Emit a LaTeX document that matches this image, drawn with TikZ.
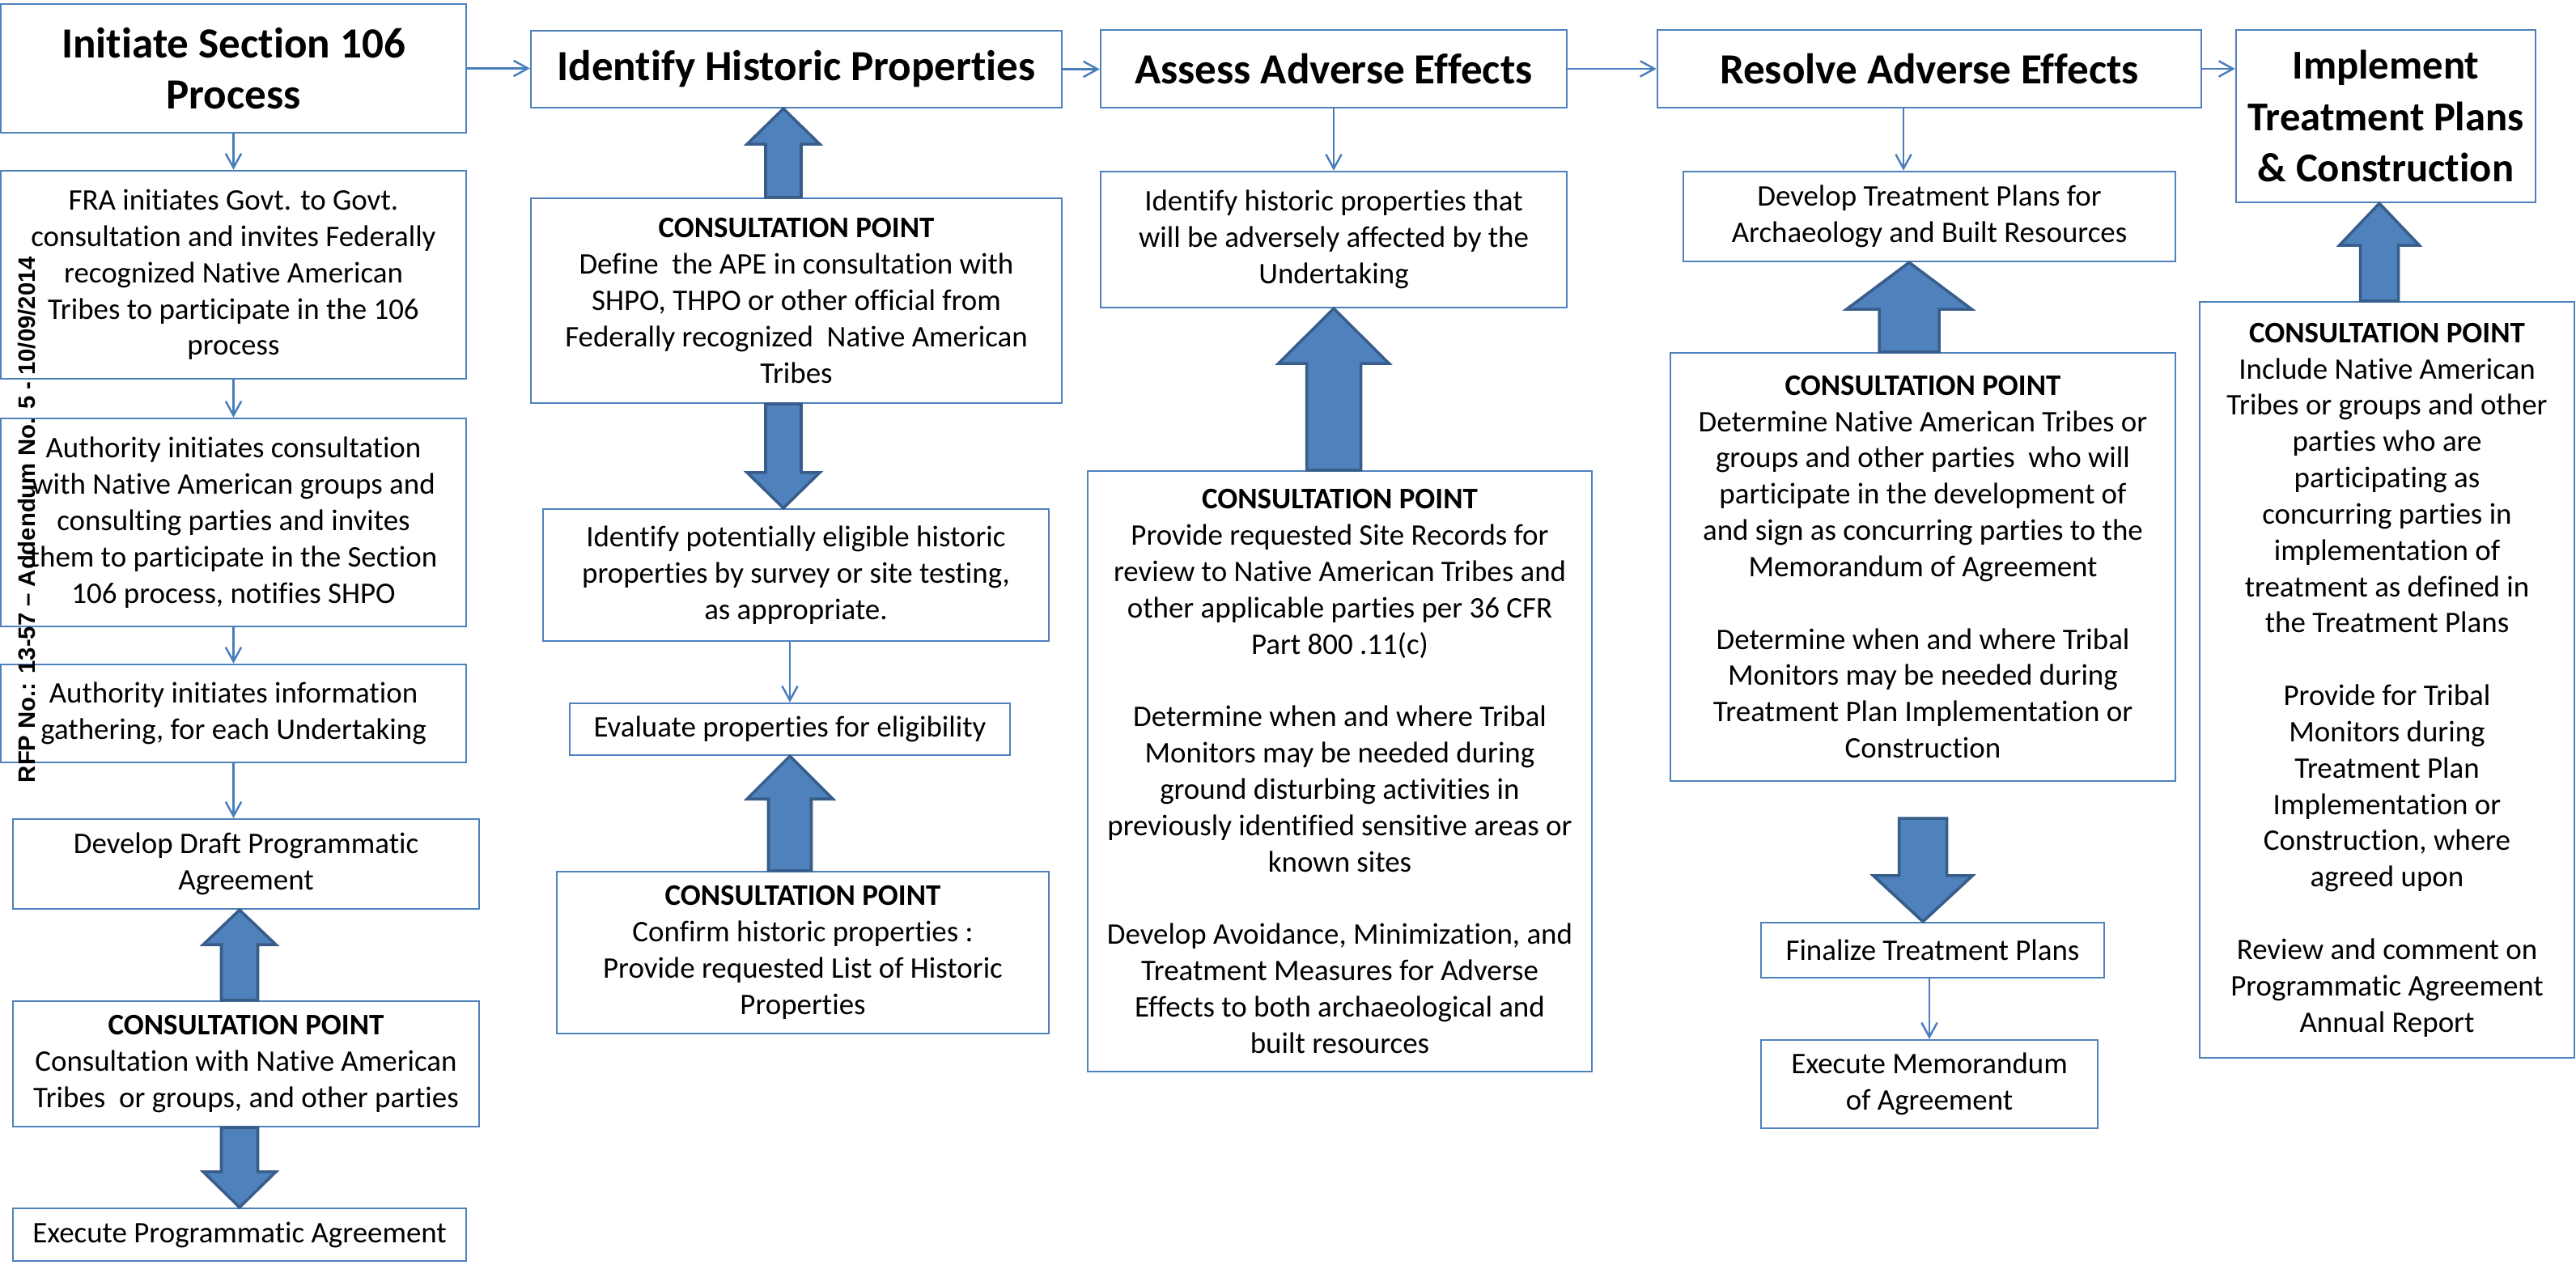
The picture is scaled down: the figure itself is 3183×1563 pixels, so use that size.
\documentclass[tikz,border=0pt]{standalone}
\usepackage{fontspec}
\setmainfont{Carlito}[Ligatures={NoCommon,NoContextual},Contextuals=NoAlternate]
\newfontfamily\rfpfont{Liberation Sans}
\usetikzlibrary{arrows.meta,calc}
\definecolor{boxblue}{HTML}{4F81BD}
\definecolor{linkblue}{HTML}{4A7EBB}
\definecolor{arrowedge}{HTML}{385D8A}
\newcommand\bodyfont{\fontsize{10.5}{12.75}\selectfont}
\newcommand\titlefont{\fontsize{15.1}{17.9}\selectfont\bfseries}
\newcommand\smtitlefont{\fontsize{14.4}{18}\selectfont\bfseries}
\tikzset{
  box/.style={draw=boxblue, line width=0.7pt, fill=white, inner sep=0pt, align=center, font=\bodyfont},
  titlebox/.style={box, font=\titlefont},
  smtitlebox/.style={box, font=\smtitlefont},
  link/.style={draw=linkblue, line width=0.7pt, -{Straight Barb[length=5pt,width=5.5pt]}},
  blockarrow/.style={fill=boxblue, draw=arrowedge, line width=1pt, line join=miter},
}
% \bx[style]{name}{x0}{y0}{x1}{y1}{text}
\newcommand\bx[7][box]{\node[#1,minimum width={(#5-#3)*0.01cm},minimum height={(#6-#4)*0.01cm}] (#2) at ({(#3+#5)/2},{(#4+#6)/2}) {#7};}
% \blk{x}{tip anchor}{base anchor}{head length (signed)}{head half}{shaft half}
\newcommand\blk[6]{\draw[blockarrow] (#1,0 |- #2) coordinate (bt) -- ++(#5,#4) -- ++({-(#5)+(#6)},0) -- ({#1+#6},0 |- #3) -- ({#1-#6},0 |- #3) -- ($(bt)+({-(#6)},#4)$) -- ($(bt)+({-(#5)},#4)$) -- cycle;}
\newcommand\cp{\textbf{CONSULTATION POINT}}
\begin{document}
\begin{tikzpicture}[x=0.01cm,y=-0.01cm]
\fill[white] (0,0) rectangle (3183,1563);
\useasboundingbox (0,0) rectangle (3183,1563);

% Column 1
\bx[titlebox]{A1}{1}{5}{576}{164}{Initiate Section 106\\Process}
\bx{A2}{1}{211}{576}{468}{FRA initiates Govt. to Govt.\\consultation and invites Federally\\recognized Native American\\Tribes to participate in the 106\\process}
\bx{A3}{1}{517}{576}{774}{Authority initiates consultation\\with Native American groups and\\consulting parties and invites\\them to participate in the Section\\106 process, notifies SHPO}
\bx{A4}{1}{821}{576}{942}{Authority initiates information\\gathering, for each Undertaking}
\bx{A5}{16}{1012}{592}{1123}{Develop Draft Programmatic\\Agreement}
\bx{A6}{16}{1237}{592}{1392}{\cp\\Consultation with Native American\\Tribes\ \ or groups, and other parties}
\bx{A7}{16}{1493}{576}{1558}{Execute Programmatic Agreement}

% Column 2
\bx[titlebox]{B1}{656}{38}{1312}{133}{Identify Historic Properties}
\bx{B2}{656}{245}{1312}{498}{\cp\\Define\ \ the APE in consultation with\\SHPO, THPO or other official from\\Federally recognized\ \ Native American\\Tribes}
\bx{B3}{671}{629}{1296}{792}{Identify potentially eligible historic\\properties by survey or site testing,\\as appropriate.}
\bx{B4}{704}{869}{1248}{933}{Evaluate properties for eligibility}
\bx{B5}{688}{1077}{1296}{1277}{\cp\\Confirm historic properties :\\Provide requested List of Historic\\Properties}

% Column 3
\bx[titlebox]{C1}{1360}{37}{1936}{133}{Assess Adverse Effects}
\bx{C2}{1360}{212}{1936}{380}{Identify historic properties that\\will be adversely affected by the\\Undertaking}
\bx{C3}{1344}{582}{1967}{1324}{\cp\\Provide requested Site Records for\\review to Native American Tribes and\\other applicable parties per 36 CFR\\Part 800 .11(c)\\[12.75pt]Determine when and where Tribal\\Monitors may be needed during\\ground disturbing activities in\\previously identified sensitive areas or\\known sites\\[12.75pt]Develop Avoidance, Minimization, and\\Treatment Measures for Adverse\\Effects to both archaeological and\\built resources}

% Column 4
\bx[titlebox]{D1}{2048}{37}{2720}{133}{Resolve Adverse Effects}
\bx{D2}{2080}{212}{2688}{323}{Develop Treatment Plans for\\Archaeology and Built Resources}
\bx{D3}{2064}{436}{2688}{965}{\cp\\Determine Native American Tribes or\\groups and other parties\ \ who will\\participate in the development of\\and sign as concurring parties to the\\Memorandum of Agreement\\[12.75pt]Determine when and where Tribal\\Monitors may be needed during\\Treatment Plan Implementation or\\Construction}
\bx{D4}{2176}{1140}{2600}{1208}{Finalize Treatment Plans}
\bx{D5}{2176}{1285}{2592}{1394}{Execute Memorandum\\of Agreement}

% Column 5
\bx[smtitlebox]{E1}{2763}{37}{3133}{250}{Implement\\Treatment Plans\\\& Construction}
\bx{E2}{2718}{373}{3181}{1307}{\cp\\Include Native American\\Tribes or groups and other\\parties who are\\participating as\\concurring parties in\\implementation of\\treatment as defined in\\the Treatment Plans\\[12.75pt]Provide for Tribal\\Monitors during\\Treatment Plan\\Implementation or\\Construction, where\\agreed upon\\[12.75pt]Review and comment on\\Programmatic Agreement\\Annual Report}

% thin connectors
\draw[link] (A1.south) -- (A2.north);
\draw[link] (A2.south) -- (A3.north);
\draw[link] (A3.south) -- (A4.north);
\draw[link] (A4.south) -- (A4.south |- A5.north);
\draw[link] (A1.east) -- (A1.east -| B1.west);
\draw[link] (B1.east) -- (B1.east -| C1.west);
\draw[link] (C1.east) -- (C1.east -| D1.west);
\draw[link] (D1.east) -- (D1.east -| E1.west);
\draw[link] (B4.north |- B3.south) -- (B4.north);
\draw[link] (C1.south) -- (C2.north);
\draw[link] (2352,0 |- D1.south) -- (2352,0 |- D2.north);
\draw[link] (D5.north |- D4.south) -- (D5.north);

% block arrows
\blk{296}{A5.south}{A6.north}{43}{45}{22.5}
\blk{296}{A7.north}{A6.south}{-44}{45}{22.5}
\blk{968}{B1.south}{B2.north}{44}{45}{22}
\blk{968}{B3.north}{B2.south}{-44}{45}{22}
\blk{976}{B4.south}{B5.north}{53}{53}{26.5}
\blk{1648}{C2.south}{C3.north}{68}{68.5}{33.5}
\blk{2359}{D2.south}{D3.north}{58}{77.5}{37}
\coordinate (d3b) at (2376,1011);
\blk{2376}{D4.north}{d3b}{-57}{61.5}{29.5}
\blk{2940}{E1.south}{E2.north}{52}{49.5}{23.5}

% rotated reference
\node[rotate=90, inner sep=0pt, font=\rfpfont\bfseries\fontsize{8.33}{10}\selectfont] (rfp) at (33,642) {RFP No.: 13-57 – Addendum No. 5 - 10/09/2014};
\end{tikzpicture}
\end{document}
